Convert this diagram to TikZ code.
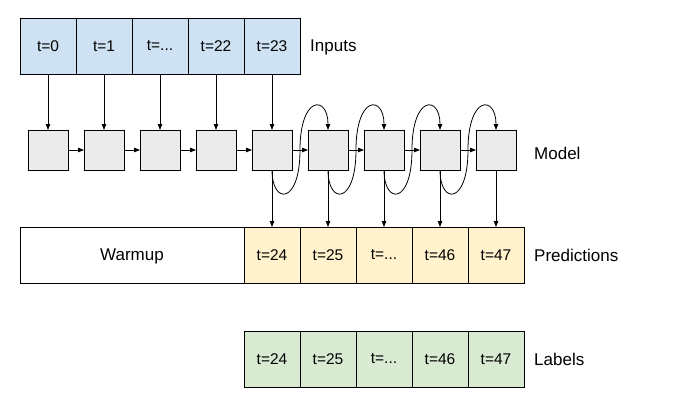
\documentclass[tikz,border=0pt]{standalone}
\usepackage{fontspec}
\setmainfont{Liberation Sans}
\usetikzlibrary{arrows.meta}
\definecolor{inblue}{HTML}{CFE2F3}
\definecolor{predyel}{HTML}{FFF2CC}
\definecolor{labgreen}{HTML}{D9EAD3}
\definecolor{modgray}{HTML}{EBEBEB}
\begin{document}
\begin{tikzpicture}[x=1pt,y=-1pt,
  cell/.style={draw=black,line width=0.9pt,minimum width=56pt,minimum height=56pt,inner sep=0pt,outer sep=0pt,font=\fontsize{15.5}{18}\selectfont},
  inpcell/.style={cell,fill=inblue},
  predcell/.style={cell,fill=predyel},
  labcell/.style={cell,fill=labgreen},
  modbox/.style={draw=black,line width=0.9pt,fill=modgray,minimum width=40pt,minimum height=40pt,inner sep=0pt,outer sep=0pt},
  rowlabel/.style={anchor=west,inner sep=0pt,font=\fontsize{17}{20}\selectfont},
  arr/.style={line width=0.8pt,-{Triangle[length=6pt,width=4.5pt]}}
]
\useasboundingbox (0,0) rectangle (697,405);
% Inputs
\node[inpcell] (i0) at (48,46) {t=0};
\node[inpcell] (i1) at (104,46) {t=1};
\node[inpcell] (i2) at (160,46) {t=...};
\node[inpcell] (i3) at (216,46) {t=22};
\node[inpcell] (i4) at (272,46) {t=23};
\node[rowlabel] (linp) at (310,47) {Inputs};
% Model
\foreach \k in {0,...,8}{
  \node[modbox] (m\k) at ({48+56*\k},150) {};
}
\node[rowlabel] (lmod) at (534,153) {Model};
% Predictions
\node[cell,fill=white,minimum width=224pt,text depth=0pt,font=\fontsize{17}{20}\selectfont] (warm) at (132,255) {Warmup};
\node[predcell] (p0) at (272,255) {t=24};
\node[predcell] (p1) at (328,255) {t=25};
\node[predcell] (p2) at (384,255) {t=...};
\node[predcell] (p3) at (440,255) {t=46};
\node[predcell] (p4) at (496,255) {t=47};
\node[rowlabel] (lpred) at (534,255) {Predictions};
% Labels
\node[labcell] (l0) at (272,359) {t=24};
\node[labcell] (l1) at (328,359) {t=25};
\node[labcell] (l2) at (384,359) {t=...};
\node[labcell] (l3) at (440,359) {t=46};
\node[labcell] (l4) at (496,359) {t=47};
\node[rowlabel] (llab) at (534,359) {Labels};
% Inputs -> model
\foreach \k in {0,...,4}{
  \draw[arr] (i\k.south) -- (m\k.north);
}
% model -> model horizontal
\foreach \k [evaluate=\k as \n using int(\k+1)] in {0,...,7}{
  \draw[arr] (m\k.east) -- (m\n.west);
}
% model -> predictions
\foreach \k [evaluate=\k as \j using int(\k+4)] in {0,...,4}{
  \draw[arr] (m\j.south) -- (p\k.north);
}
% feedback S-curves
\foreach \k [evaluate=\k as \n using int(\k+1)] in {4,...,7}{
  \draw[arr] (m\k.south) .. controls ([yshift=-35pt]m\k.south) and ([xshift=28pt,yshift=-35pt]m\k.south) .. ([xshift=28pt]m\k.center)
     .. controls ([xshift=-28pt,yshift=35pt]m\n.north) and ([yshift=35pt]m\n.north) .. (m\n.north);
}
\end{tikzpicture}
\end{document}
